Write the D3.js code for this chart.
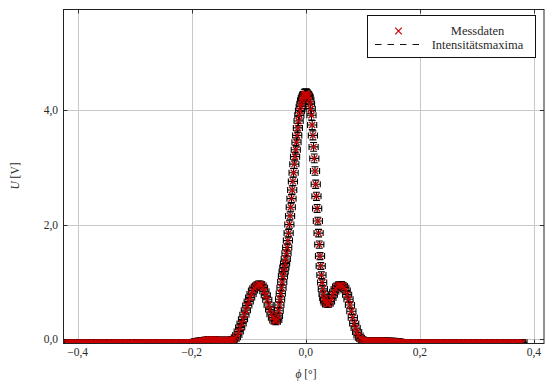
<!DOCTYPE html>
<html><head><meta charset="utf-8">
<script src="https://cdn.jsdelivr.net/npm/d3@7"></script>
<style>
body{margin:0;background:#fff}
svg{display:block}
text{font-family:"Liberation Serif","Times New Roman","DejaVu Serif",serif;fill:#2a2a2a}
</style>
</head><body>
<svg id="chart" width="545" height="385"></svg>
<script>
// ---- data ----
const phi = [
-0.4200,-0.4175,-0.4150,-0.4125,-0.4100,-0.4075,-0.4050,-0.4025,-0.4000,-0.3975,
-0.3950,-0.3925,-0.3900,-0.3875,-0.3850,-0.3825,-0.3800,-0.3775,-0.3750,-0.3725,
-0.3700,-0.3675,-0.3650,-0.3625,-0.3600,-0.3575,-0.3550,-0.3525,-0.3500,-0.3475,
-0.3450,-0.3425,-0.3400,-0.3375,-0.3350,-0.3325,-0.3300,-0.3275,-0.3250,-0.3225,
-0.3200,-0.3175,-0.3150,-0.3125,-0.3100,-0.3075,-0.3050,-0.3025,-0.3000,-0.2975,
-0.2950,-0.2925,-0.2900,-0.2875,-0.2850,-0.2825,-0.2800,-0.2775,-0.2750,-0.2725,
-0.2700,-0.2675,-0.2650,-0.2625,-0.2600,-0.2575,-0.2550,-0.2525,-0.2500,-0.2475,
-0.2450,-0.2425,-0.2400,-0.2375,-0.2350,-0.2325,-0.2300,-0.2275,-0.2250,-0.2225,
-0.2200,-0.2175,-0.2150,-0.2125,-0.2100,-0.2075,-0.2050,-0.2025,
-0.2000,-0.1975,-0.1950,-0.1925,-0.1900,-0.1875,-0.1850,-0.1825,-0.1800,-0.1775,
-0.1750,-0.1725,-0.1700,-0.1675,-0.1650,-0.1625,-0.1600,-0.1575,-0.1550,-0.1525,
-0.1500,-0.1475,-0.1450,-0.1425,-0.1400,-0.1375,-0.1350,-0.1325,-0.1300,-0.1275,
-0.1250,-0.1225,-0.1200,-0.1175,-0.1150,-0.1125,-0.1100,-0.1075,-0.1050,-0.1025,
-0.1000,-0.0975,-0.0950,-0.0925,-0.0900,-0.0875,-0.0850,-0.0825,-0.0800,-0.0775,
-0.0750,-0.0725,-0.0700,-0.0675,-0.0650,-0.0625,-0.0600,-0.0575,-0.0550,-0.0525,
-0.05000,-0.04875,-0.04750,-0.04625,-0.04500,-0.04375,-0.04250,-0.04125,-0.04000,-0.03875,
-0.03750,-0.03625,-0.03500,-0.03375,-0.03250,-0.03125,-0.03000,-0.02875,-0.02750,-0.02625,
-0.02500,-0.02375,-0.02250,-0.02125,-0.02000,-0.01875,-0.01750,-0.01625,-0.01500,-0.01375,
-0.01250,-0.01125,-0.01000,-0.00875,-0.00750,-0.00625,-0.00500,-0.00375,-0.00250,-0.00125,
0.00000,0.00125,0.00250,0.00375,0.00500,0.00625,0.00750,0.00875,0.01000,0.01125,
0.01250,0.01375,0.01500,0.01625,0.01750,0.01875,0.02000,0.02125,0.02250,0.02375,
0.02500,0.02625,0.02750,0.02875,0.03000,0.03125,0.03250,0.03375,0.03500,
0.0375,0.0400,0.0425,0.0450,0.0475,0.0500,0.0525,0.0550,0.0575,0.0600,
0.0625,0.0650,0.0675,0.0700,0.0725,0.0750,0.0775,0.0800,0.0825,0.0850,
0.0875,0.0900,0.0925,0.0950,0.0975,0.1000,
0.1025,0.1050,0.1075,0.1100,0.1125,0.1150,0.1175,0.1200,0.1225,0.1250,
0.1275,0.1300,0.1325,0.1350,0.1375,0.1400,0.1425,0.1450,0.1475,0.1500,
0.1525,0.1550,0.1575,0.1600,0.1625,0.1650,0.1675,0.1700,0.1725,0.1750,
0.1775,0.1800,0.1825,0.1850,0.1875,0.1900,0.1925,0.1950,0.1975,0.2000,
0.2025,0.2050,0.2075,0.2100,0.2125,0.2150,0.2175,0.2200,0.2225,0.2250,
0.2275,0.2300,0.2325,0.2350,0.2375,0.2400,0.2425,0.2450,0.2475,0.2500,
0.2525,0.2550,0.2575,0.2600,0.2625,0.2650,0.2675,0.2700,0.2725,0.2750,
0.2775,0.2800,0.2825,0.2850,0.2875,0.2900,0.2925,0.2950,0.2975,0.3000,
0.3025,0.3050,0.3075,0.3100,0.3125,0.3150,0.3175,0.3200,0.3225,0.3250,
0.3275,0.3300,0.3325,0.3350,0.3375,0.3400,0.3425,0.3450,0.3475,0.3500,
0.3525,0.3550,0.3575,0.3600,0.3625,0.3650,0.3675,0.3700,0.3725,0.3750,
0.3775,0.3800
];
const U = [
-0.05,-0.06,-0.05,-0.05,-0.06,-0.05,-0.06,-0.05,-0.05,-0.06,
-0.06,-0.05,-0.06,-0.05,-0.05,-0.06,-0.05,-0.06,-0.06,-0.05,
-0.05,-0.06,-0.05,-0.06,-0.05,-0.05,-0.06,-0.05,-0.06,-0.05,
-0.06,-0.05,-0.05,-0.06,-0.05,-0.06,-0.05,-0.05,-0.06,-0.05,
-0.05,-0.06,-0.05,-0.06,-0.05,-0.05,-0.06,-0.05,-0.05,-0.06,
-0.06,-0.05,-0.06,-0.05,-0.05,-0.06,-0.05,-0.06,-0.05,-0.05,
-0.05,-0.06,-0.05,-0.05,-0.06,-0.05,-0.06,-0.05,-0.05,-0.06,
-0.05,-0.05,-0.06,-0.05,-0.06,-0.05,-0.05,-0.06,-0.05,-0.05,
-0.05,-0.06,-0.05,-0.05,-0.05,-0.06,-0.05,-0.05,
-0.05,-0.05,-0.04,-0.04,-0.03,-0.03,-0.02,-0.02,-0.02,-0.01,
-0.01,-0.01,0.00,0.00,0.00,0.00,0.00,-0.01,-0.01,-0.01,
-0.01,-0.01,-0.01,-0.01,-0.01,-0.01,-0.01,-0.01,-0.01,0.00,
0.01,0.04,0.08,0.14,0.21,0.28,0.35,0.43,0.51,0.59,
0.66,0.73,0.79,0.85,0.89,0.92,0.94,0.96,0.96,0.94,
0.90,0.84,0.77,0.69,0.60,0.52,0.44,0.38,0.33,0.31,
0.34,0.41,0.50,0.60,0.70,0.80,0.90,1.00,1.10,1.18,
1.25,1.32,1.40,1.50,1.60,1.72,1.85,2.00,2.15,2.30,
2.45,2.60,2.75,2.90,3.05,3.18,3.30,3.43,3.55,3.68,
3.80,3.90,3.98,4.05,4.10,4.16,4.20,4.23,4.26,4.27,
4.27,4.27,4.26,4.24,4.22,4.17,4.10,4.01,3.90,3.73,
3.55,3.35,3.15,2.93,2.70,2.49,2.28,2.06,1.85,1.65,
1.45,1.28,1.12,0.99,0.88,0.79,0.72,0.68,0.64,
0.61,0.62,0.66,0.72,0.78,0.83,0.88,0.92,0.94,0.95,
0.95,0.93,0.90,0.85,0.78,0.70,0.60,0.49,0.38,0.28,
0.20,0.13,0.07,0.03,0.01,-0.01,
-0.02,-0.02,-0.02,-0.02,-0.02,-0.02,-0.02,-0.02,-0.02,-0.02,
-0.02,-0.02,-0.02,-0.02,-0.02,-0.02,-0.03,-0.03,-0.03,-0.03,
-0.03,-0.03,-0.04,-0.04,-0.04,-0.04,-0.05,-0.05,-0.05,-0.05,
-0.05,-0.06,-0.05,-0.05,-0.06,-0.05,-0.05,-0.06,-0.05,-0.06,
-0.05,-0.05,-0.06,-0.05,-0.06,-0.05,-0.05,-0.06,-0.05,-0.05,
-0.06,-0.05,-0.05,-0.06,-0.05,-0.06,-0.05,-0.05,-0.06,-0.05,
-0.05,-0.06,-0.05,-0.06,-0.05,-0.05,-0.06,-0.05,-0.05,-0.06,
-0.05,-0.05,-0.06,-0.05,-0.06,-0.05,-0.05,-0.06,-0.05,-0.05,
-0.06,-0.05,-0.05,-0.06,-0.05,-0.06,-0.05,-0.05,-0.06,-0.05,
-0.05,-0.06,-0.05,-0.05,-0.06,-0.05,-0.06,-0.05,-0.05,-0.06,
-0.05,-0.05,-0.06,-0.05,-0.06,-0.05,-0.05,-0.06,-0.05,-0.05,
-0.06,-0.05
];
const phiErr = 0.008;     // angle uncertainty [°]
const uErrBase = 0.05;    // voltage uncertainty, constant part [V]
const uErrRel = 0.008;    // voltage uncertainty, relative part
const xTicks = [-0.4, -0.2, 0.0, 0.2, 0.4];
const yTicks = [0, 2, 4];
const xDomain = [-0.4247, 0.4177];
const yDomain = [-0.07, 5.74];
const legendLabels = ["Messdaten", "Intensitätsmaxima"];
const xTitle = "[°]";
const yTitle = "[V]";

// ---- drawing ----
const svg = d3.select("#chart");
const L = 63.5, R = 544, T = 9.5, B = 343.5;
const x = d3.scaleLinear().domain(xDomain).range([L, R]);
const y = d3.scaleLinear().domain(yDomain).range([B, T]);
const fmt = v => d3.format(".1f")(v).replace(".", ",");

svg.append("rect").attr("width", 545).attr("height", 385).attr("fill", "#fff");

// grid
const grid = svg.append("g").attr("stroke", "#c8c8c8").attr("stroke-width", 1);
grid.selectAll(".gx").data(xTicks).join("line")
  .attr("x1", d => Math.round(x(d)) + 0.5).attr("x2", d => Math.round(x(d)) + 0.5)
  .attr("y1", T).attr("y2", B);
grid.selectAll(".gy").data(yTicks).join("line")
  .attr("y1", d => Math.round(y(d)) + 0.5).attr("y2", d => Math.round(y(d)) + 0.5)
  .attr("x1", L).attr("x2", R);

// ticks (inward, mirrored)
const tk = svg.append("g").attr("stroke", "#333").attr("stroke-width", 1);
const tl = 4;
xTicks.forEach(d => {
  const px = Math.round(x(d)) + 0.5;
  tk.append("line").attr("x1", px).attr("x2", px).attr("y1", B).attr("y2", B - tl);
  tk.append("line").attr("x1", px).attr("x2", px).attr("y1", T).attr("y2", T + tl);
});
yTicks.forEach(d => {
  const py = Math.round(y(d)) + 0.5;
  tk.append("line").attr("y1", py).attr("y2", py).attr("x1", L).attr("x2", L + tl);
  tk.append("line").attr("y1", py).attr("y2", py).attr("x1", R).attr("x2", R - tl);
});

// data
const data = phi.map((p, i) => ({p, u: U[i], e: uErrBase + uErrRel * Math.max(0, U[i])}));
svg.append("clipPath").attr("id", "clip").append("rect")
  .attr("x", L).attr("y", T).attr("width", R - L).attr("height", B - T);
const plot = svg.append("g").attr("clip-path", "url(#clip)");

const cap = 3.5, vcap = 3;
const eb = plot.append("g").attr("stroke", "#000").attr("stroke-width", 1.1).attr("fill", "none");
eb.selectAll("path").data(data).join("path")
  .attr("d", d => {
    const px = x(d.p), py = y(d.u), y1 = y(d.u - d.e), y2 = y(d.u + d.e);
    const x1 = x(d.p - phiErr), x2 = x(d.p + phiErr);
    return `M${px},${y1}V${y2}M${px - cap},${y1}H${px + cap}M${px - cap},${y2}H${px + cap}` +
           `M${x1},${py}H${x2}M${x1},${py - vcap}V${py + vcap}M${x2},${py - vcap}V${py + vcap}`;
  });

const ms = 3;
const mk = plot.append("g").attr("stroke", "#c80000").attr("stroke-width", 1.3).attr("fill", "none");
mk.selectAll("path").data(data).join("path")
  .attr("d", d => {
    const px = x(d.p), py = y(d.u);
    return `M${px - ms},${py - ms}L${px + ms},${py + ms}M${px - ms},${py + ms}L${px + ms},${py - ms}`;
  });

// frame
svg.append("rect").attr("x", L).attr("y", T).attr("width", R - L).attr("height", B - T)
  .attr("fill", "none").attr("stroke", "#222").attr("stroke-width", 1);

// tick labels
svg.append("g").selectAll("text").data(xTicks).join("text")
  .attr("x", d => x(d)).attr("y", 356).attr("text-anchor", "middle")
  .attr("font-size", 11.5).text(d => fmt(d));
svg.append("g").selectAll("text").data(yTicks).join("text")
  .attr("x", 58).attr("y", d => y(d) + 4).attr("text-anchor", "end")
  .attr("font-size", 11.5).text(d => fmt(d));

// axis titles
const xt = svg.append("text").attr("x", 306).attr("y", 378).attr("text-anchor", "middle").attr("font-size", 11.5);
xt.append("tspan").attr("font-style", "italic").text("ϕ");
xt.append("tspan").text(" " + xTitle);
const yt = svg.append("text").attr("transform", "translate(19,176) rotate(-90)")
  .attr("text-anchor", "middle").attr("font-size", 11.5);
yt.append("tspan").attr("font-style", "italic").text("U");
yt.append("tspan").text(" " + yTitle);

// legend
const lg = svg.append("g");
lg.append("rect").attr("x", 367.5).attr("y", 15.5).attr("width", 168).attr("height", 42)
  .attr("fill", "#fff").attr("stroke", "#111").attr("stroke-width", 1);
const lmx = 398.5, lmy = 31;
const ls = 3.3;
lg.append("path").attr("d", `M${lmx - ls},${lmy - ls}L${lmx + ls},${lmy + ls}M${lmx - ls},${lmy + ls}L${lmx + ls},${lmy - ls}`)
  .attr("stroke", "#d00000").attr("stroke-width", 1.2).attr("fill", "none");
lg.append("line").attr("x1", 375).attr("x2", 423).attr("y1", 44.5).attr("y2", 44.5)
  .attr("stroke", "#111").attr("stroke-width", 1).attr("stroke-dasharray", "6.5,6");
lg.selectAll(".lt").data(legendLabels).join("text")
  .attr("x", 477.5).attr("y", (d, i) => 35 + i * 13.5).attr("text-anchor", "middle")
  .attr("font-size", 12.5).text(d => d);
</script>
</body></html>
